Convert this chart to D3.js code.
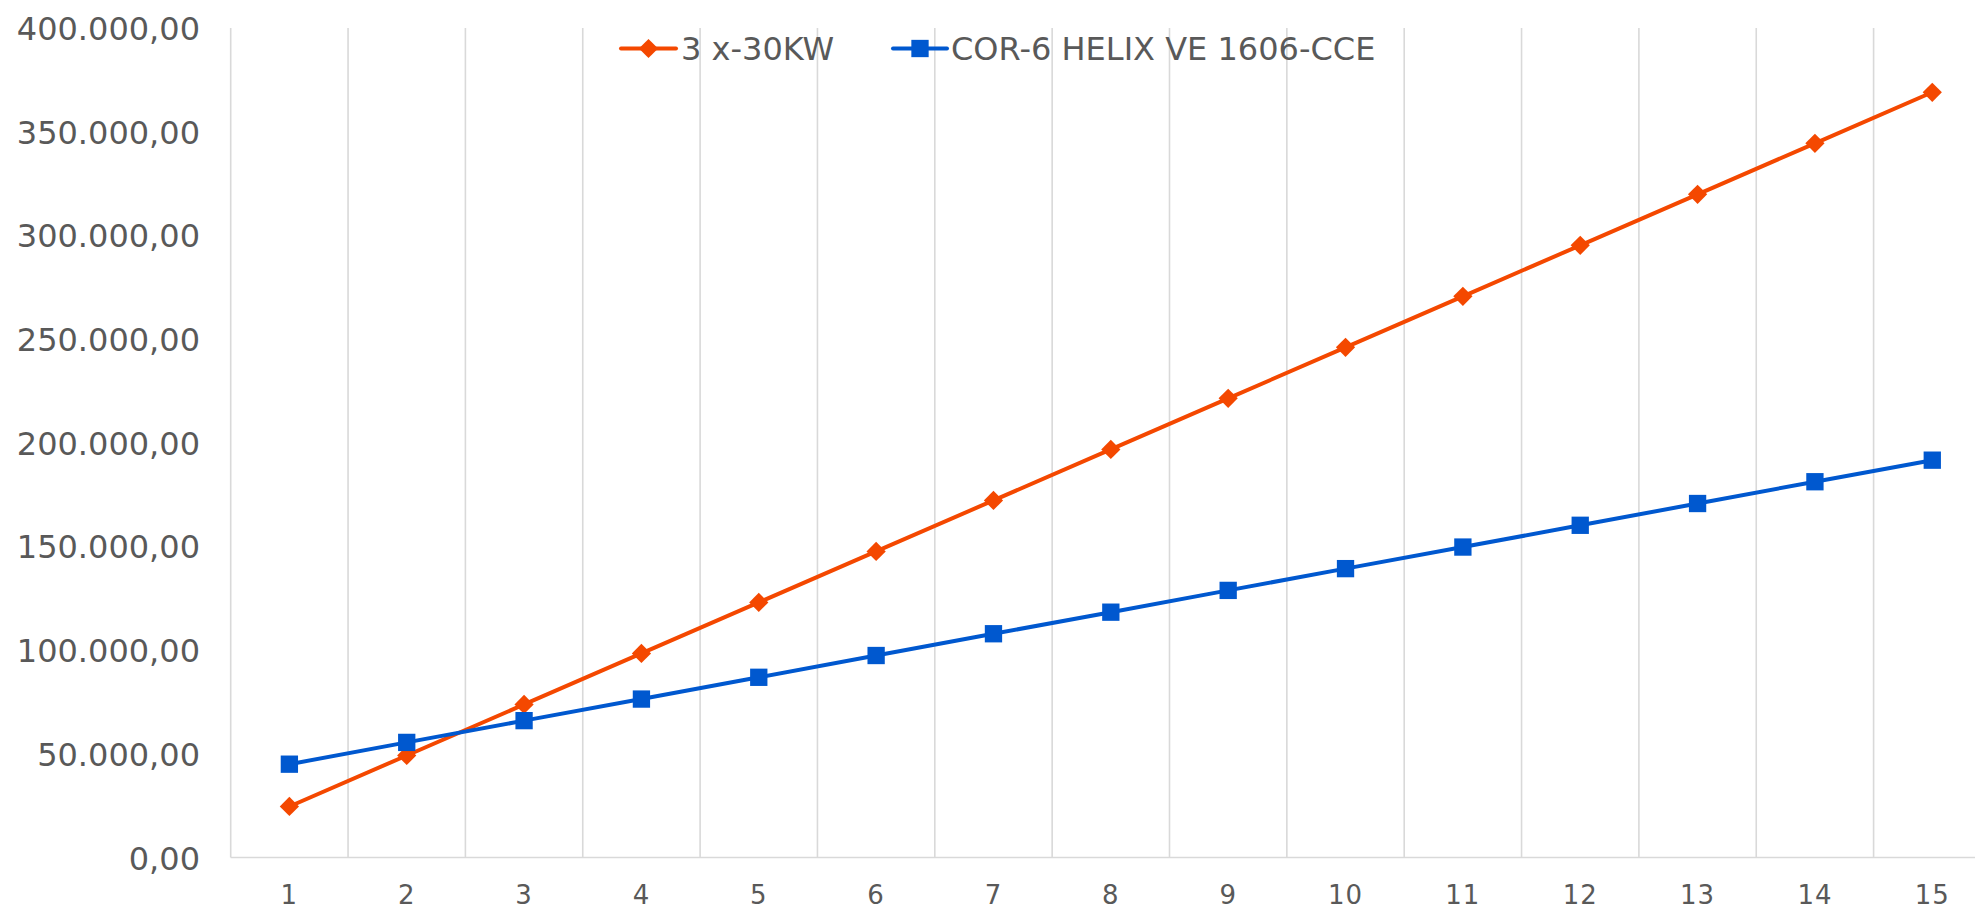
<!DOCTYPE html>
<html>
<head>
<meta charset="utf-8">
<script src="https://cdn.jsdelivr.net/npm/d3@7"></script>
<style>
  html, body { margin: 0; padding: 0; background: #fff; overflow: hidden; }
  svg { display: block; }
  text { font-family: "DejaVu Sans", sans-serif; fill: #595959; }
</style>
</head>
<body>
<svg id="chart" width="1975" height="909"></svg>
<script>
// ---- data ----
const categories = [1, 2, 3, 4, 5, 6, 7, 8, 9, 10, 11, 12, 13, 14, 15];
const seriesNames = ["3 x-30KW", "COR-6 HELIX VE 1606-CCE"];
const seriesA = [24600, 49200, 73800, 98400, 123000, 147600, 172200, 196800, 221400, 246000, 270600, 295200, 319800, 344400, 369000];
const seriesB = [45000, 55500, 66000, 76400, 86900, 97400, 107900, 118300, 128800, 139300, 149700, 160200, 170700, 181200, 191600];
const yTicks = [0, 50000, 100000, 150000, 200000, 250000, 300000, 350000, 400000];
const colors = ["#F44800", "#0058CF"];

// ---- layout ----
const svg = d3.select("#chart");
const plotLeft = 230.7, bandW = 117.35;
const plotRight = plotLeft + bandW * categories.length;
const plotTop = 28, plotBottom = 857.5;

const x = d3.scaleBand().domain(categories).range([plotLeft, plotRight]).paddingInner(0).paddingOuter(0);
const y = d3.scaleLinear().domain([0, 400000]).range([plotBottom, plotTop]);

const fmt = v => {
  const s = d3.format(",.2f")(v);
  return s.replace(/,/g, "#").replace(".", ",").replace(/#/g, ".");
};

// vertical gridlines at band boundaries
const bounds = categories.map(c => x(c)).concat([plotRight]);
svg.append("g").selectAll("line").data(bounds).join("line")
  .attr("x1", d => d).attr("x2", d => d)
  .attr("y1", plotTop).attr("y2", plotBottom)
  .attr("stroke", "#d9d9d9").attr("stroke-width", 1.6);

// baseline
svg.append("line")
  .attr("x1", plotLeft).attr("x2", plotRight)
  .attr("y1", plotBottom).attr("y2", plotBottom)
  .attr("stroke", "#d9d9d9").attr("stroke-width", 1.6);

// y axis labels
const yAxis = d3.axisLeft(y).tickValues(yTicks).tickFormat(fmt).tickSize(0).tickPadding(0);
const gy = svg.append("g").attr("transform", "translate(200,0)").call(yAxis);
gy.select(".domain").remove();
gy.selectAll("text").attr("font-size", 32).attr("font-family", "DejaVu Sans").attr("fill", "#595959").attr("dy", "0.36em");

// x axis labels
const xAxis = d3.axisBottom(x).tickSize(0).tickPadding(0);
const gx = svg.append("g").attr("transform", `translate(0,${plotBottom})`).call(xAxis);
gx.select(".domain").remove();
gx.selectAll("text").attr("font-size", 26).attr("font-family", "DejaVu Sans").attr("fill", "#595959")
  .attr("dy", null).attr("y", 46).attr("letter-spacing", 1);

const cx = c => x(c) + x.bandwidth() / 2;
const line = d3.line().x((d, i) => cx(categories[i])).y(d => y(d));

// series A (orange, diamonds)
svg.append("path").datum(seriesA).attr("d", line)
  .attr("fill", "none").attr("stroke", colors[0]).attr("stroke-width", 4).attr("stroke-linejoin", "round");
const diamond = d3.symbol().type(d3.symbolSquare).size(185);
svg.append("g").selectAll("path").data(seriesA).join("path")
  .attr("d", diamond)
  .attr("transform", (d, i) => `translate(${cx(categories[i])},${y(d)}) rotate(45)`)
  .attr("fill", colors[0]);

// series B (blue, squares)
svg.append("path").datum(seriesB).attr("d", line)
  .attr("fill", "none").attr("stroke", colors[1]).attr("stroke-width", 4).attr("stroke-linejoin", "round");
const square = d3.symbol().type(d3.symbolSquare).size(300);
svg.append("g").selectAll("path").data(seriesB).join("path")
  .attr("d", square)
  .attr("transform", (d, i) => `translate(${cx(categories[i])},${y(d)})`)
  .attr("fill", colors[1]);

// legend
const legY = 48.5;
const leg = [
  { name: seriesNames[0], color: colors[0], x0: 621, x1: 676, tx: 681, sym: "diamond" },
  { name: seriesNames[1], color: colors[1], x0: 893, x1: 947, tx: 951, sym: "square" }
];
leg.forEach(l => {
  svg.append("line").attr("x1", l.x0).attr("x2", l.x1).attr("y1", legY).attr("y2", legY)
    .attr("stroke", l.color).attr("stroke-width", 4).attr("stroke-linecap", "round");
  const mx = (l.x0 + l.x1) / 2;
  if (l.sym === "diamond") {
    svg.append("path").attr("d", diamond).attr("transform", `translate(${mx},${legY}) rotate(45)`).attr("fill", l.color);
  } else {
    svg.append("path").attr("d", square).attr("transform", `translate(${mx},${legY})`).attr("fill", l.color);
  }
  svg.append("text").attr("x", l.tx).attr("y", legY).attr("dy", "0.36em")
    .attr("font-size", 32).text(l.name);
});
</script>
</body>
</html>
